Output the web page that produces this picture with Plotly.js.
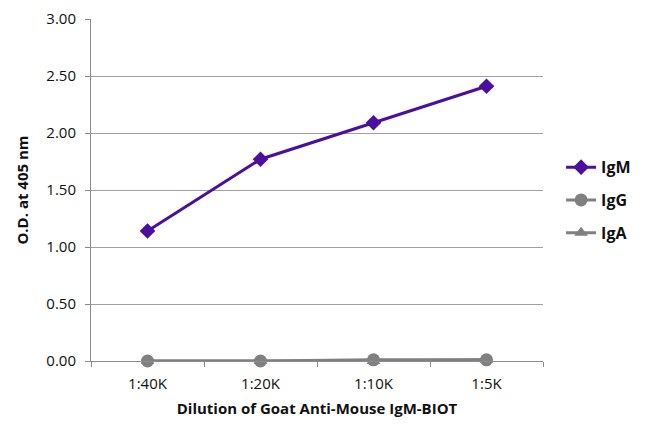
<!DOCTYPE html>
<html>
<head>
<meta charset="utf-8">
<script src="https://cdn.plot.ly/plotly-3.0.1.min.js"></script>
<style>
  html, body { margin: 0; padding: 0; background: #fff; }
  #chart { width: 650px; height: 433px; }
</style>
</head>
<body>
<div id="chart"></div>
<script>
// Dilutions on the x axis
const dilutions = ['1:40K', '1:20K', '1:10K', '1:5K'];

// O.D. at 405 nm
const igmValues = [1.14, 1.77, 2.09, 2.41];
const iggValues = [0.00, 0.00, 0.01, 0.01];
const igaValues = [0.00, 0.00, 0.00, 0.01];

const purple = '#4a0f9e';
const grey = '#808080';

function serie(name, values, color, symbol, size, rank) {
  return {
    x: dilutions,
    y: values,
    name: name,
    type: 'scatter',
    mode: 'lines+markers',
    cliponaxis: false,
    legendgroup: name,
    legendrank: rank,
    line: { color: color, width: 3 },
    marker: { color: color, symbol: symbol, size: size }
  };
}

// IgA first so IgG sits on top of it, like the original
const traces = [
  serie('IgA', igaValues, grey, 'triangle-up', 12, 3),
  serie('IgG', iggValues, grey, 'circle', 13, 2),
  serie('IgM', igmValues, purple, 'diamond', 12, 1)
];

const layout = {
  width: 650,
  height: 433,
  margin: { l: 91, r: 107, t: 19, b: 72 },
  paper_bgcolor: '#fff',
  plot_bgcolor: '#fff',
  font: { family: 'Open Sans, sans-serif', size: 15, color: '#111' },
  showlegend: true,
  legend: {
    x: 1.04,
    xanchor: 'left',
    y: 0.47,
    yanchor: 'middle',
    traceorder: 'grouped',
    tracegroupgap: 9,
    itemwidth: 30,
    font: { size: 16, weight: 'bold', color: '#111' }
  },
  xaxis: {
    type: 'category',
    range: [-0.5, 3.5],
    showline: true,
    linecolor: '#8c8c8c',
    linewidth: 1,
    ticks: 'outside',
    tickson: 'boundaries',
    ticklen: 5,
    tickcolor: '#8c8c8c',
    showgrid: false,
    ticklabelstandoff: 9,
    tickfont: { size: 15 },
    title: {
      text: 'Dilution of Goat Anti-Mouse IgM-BIOT',
      font: { size: 15, weight: 'bold' },
      standoff: 11
    }
  },
  yaxis: {
    range: [0, 3],
    dtick: 0.5,
    tickformat: '.2f',
    showline: true,
    linecolor: '#8c8c8c',
    linewidth: 1,
    ticks: 'outside',
    ticklen: 5,
    tickcolor: '#8c8c8c',
    showgrid: true,
    gridcolor: '#a0a0a0',
    gridwidth: 1,
    zeroline: false,
    ticklabelstandoff: 6,
    tickfont: { size: 15 },
    title: {
      text: 'O.D. at 405 nm',
      font: { size: 15, weight: 'bold' },
      standoff: 14
    }
  }
};

Plotly.newPlot('chart', traces, layout, { staticPlot: true, displayModeBar: false });
</script>
</body>
</html>
